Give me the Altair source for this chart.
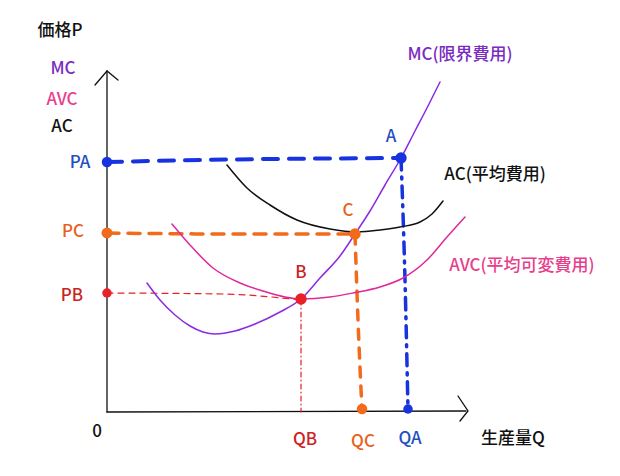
import altair as alt
import pandas as pd

# Coordinates: q = horizontal quantity units, p = price units (origin at the axes' corner)
OX, OY = 107, 412  # helper to convert read-off pixel positions into data units

def conv(pts):
    return [(x - OX, OY - y) for x, y in pts]

# Cost curves
mc_pts = conv([(147, 283), (160, 300), (175, 315), (190, 326), (203, 332), (215, 334), (235, 331),
               (255, 324), (280, 312), (301, 299), (320, 278), (340, 256), (355, 234), (370, 211),
               (385, 185), (401, 158), (415, 131), (428, 106), (440, 82)])
avc_pts = conv([(172, 224), (190, 245), (213, 268), (240, 283), (263, 291), (285, 297), (301, 299),
                (330, 297), (353, 293), (380, 287), (403, 278), (427, 260), (447, 237), (465, 217)])
ac_pts = conv([(227, 165), (247, 188), (270, 205), (297, 220), (330, 229), (357, 232), (380, 230),
               (400, 227), (420, 222), (432, 214), (443, 201)])

# Guide lines
pa_h = conv([(107, 162), (200, 160), (401, 158)])
pa_v = conv([(401, 158), (405, 280), (408, 410)])
pc_h = conv([(107, 233), (230, 234), (355, 234)])
pc_v = conv([(355, 234), (358, 320), (362, 410)])
pb_h = conv([(107, 293), (223, 294), (301, 300)])
pb_v = conv([(301, 300), (301, 412)])

# Axes
yaxis_pts = conv([(107, 412), (107, 71)])
yarrow_pts = conv([(95, 85), (107, 71), (118, 80)])
xaxis_pts = conv([(107, 412), (466, 411)])
xarrow_pts = conv([(458, 396), (468, 411), (460, 421)])

# Dots
dot_pts = conv([(107, 162), (401, 158), (408, 409), (107, 233), (355, 234), (362, 409), (107, 293), (301, 299)])
dot_colors = ["#1733e0", "#1733e0", "#1733e0", "#f26b1d", "#f26b1d", "#f26b1d", "#e8202a", "#e8202a"]
dot_sizes = [110, 130, 90, 120, 130, 110, 90, 130]

# Labels
label_texts = ["価格P", "MC", "AVC", "AC", "PA", "PC", "PB", "0", "QB", "QC", "QA", "生産量Q",
               "MC(限界費用)", "AC(平均費用)", "AVC(平均可変費用)", "A", "C", "B"]
label_pts = conv([(60, 31), (63, 69), (62, 100), (62, 127), (80, 163), (73, 232), (72, 296), (97, 432),
                  (305, 440), (363, 442), (410, 439), (513, 439), (460, 55), (495, 175), (522, 266),
                  (391, 137), (348, 211), (301, 273)])
label_colors = ["#111111", "#7b2bbf", "#e83e8c", "#111111", "#1f4fc0", "#e8601c", "#cc2222", "#111111",
                "#cc2222", "#e8601c", "#1f4fc0", "#111111", "#7b2bbf", "#111111", "#e83e8c",
                "#1f4fc0", "#e8601c", "#cc2222"]

XS = alt.Scale(domain=[8 - OX, 612 - OX], nice=False, zero=False)
YS = alt.Scale(domain=[OY - 468, OY - 8], nice=False, zero=False)


def df(pts):
    return pd.DataFrame({"q": [a for a, b in pts], "p": [b for a, b in pts], "o": list(range(len(pts)))})


def line(pts, color, width, dash=None, interp="monotone"):
    kw = dict(color=color, strokeWidth=width, interpolate=interp, strokeCap="round", clip=False)
    if dash:
        kw["strokeDash"] = dash
    return alt.Chart(df(pts)).mark_line(**kw).encode(
        x=alt.X("q:Q", scale=XS, axis=None),
        y=alt.Y("p:Q", scale=YS, axis=None),
        order="o:Q",
    )


layers = [
    line(yaxis_pts, "#111111", 1.3, interp="linear"),
    line(yarrow_pts, "#111111", 1.3, interp="linear"),
    line(xaxis_pts, "#111111", 1.3, interp="linear"),
    line(xarrow_pts, "#111111", 1.3, interp="linear"),
    line(pb_h, "#e8202a", 1.2, [6, 5]),
    line(pb_v, "#e8202a", 1.2, [5, 3, 1, 3], interp="linear"),
    line(pc_h, "#f26b1d", 3.5, [12, 9]),
    line(pc_v, "#f26b1d", 3.5, [10, 9]),
    line(pa_h, "#1733e0", 4, [15, 11]),
    line(pa_v, "#1733e0", 3.5, [12, 7, 2, 7]),
    line(ac_pts, "#111111", 1.5),
    line(avc_pts, "#e0289a", 1.5),
    line(mc_pts, "#8a2be2", 1.5),
]

dots = pd.DataFrame({"q": [a for a, b in dot_pts], "p": [b for a, b in dot_pts],
                     "c": dot_colors, "s": dot_sizes})
layers.append(alt.Chart(dots).mark_point(filled=True, opacity=1, shape="circle").encode(
    x=alt.X("q:Q", scale=XS, axis=None),
    y=alt.Y("p:Q", scale=YS, axis=None),
    color=alt.Color("c:N", scale=None),
    size=alt.Size("s:Q", scale=None),
))

labels = pd.DataFrame({"q": [a for a, b in label_pts], "p": [b for a, b in label_pts],
                       "t": label_texts, "c": label_colors})
layers.append(alt.Chart(labels).mark_text(font="Noto Sans CJK JP", fontSize=17, fontWeight=500,
                                          align="center", baseline="middle").encode(
    x=alt.X("q:Q", scale=XS, axis=None),
    y=alt.Y("p:Q", scale=YS, axis=None),
    text="t:N",
    color=alt.Color("c:N", scale=None),
))

chart = alt.layer(*layers).properties(
    width=604, height=460, padding=0, autosize=alt.AutoSizeParams(type="none"),
    background="white"
).configure_view(strokeWidth=0)

chart.save("out.html", embed_options={"renderer": "svg", "actions": False})
